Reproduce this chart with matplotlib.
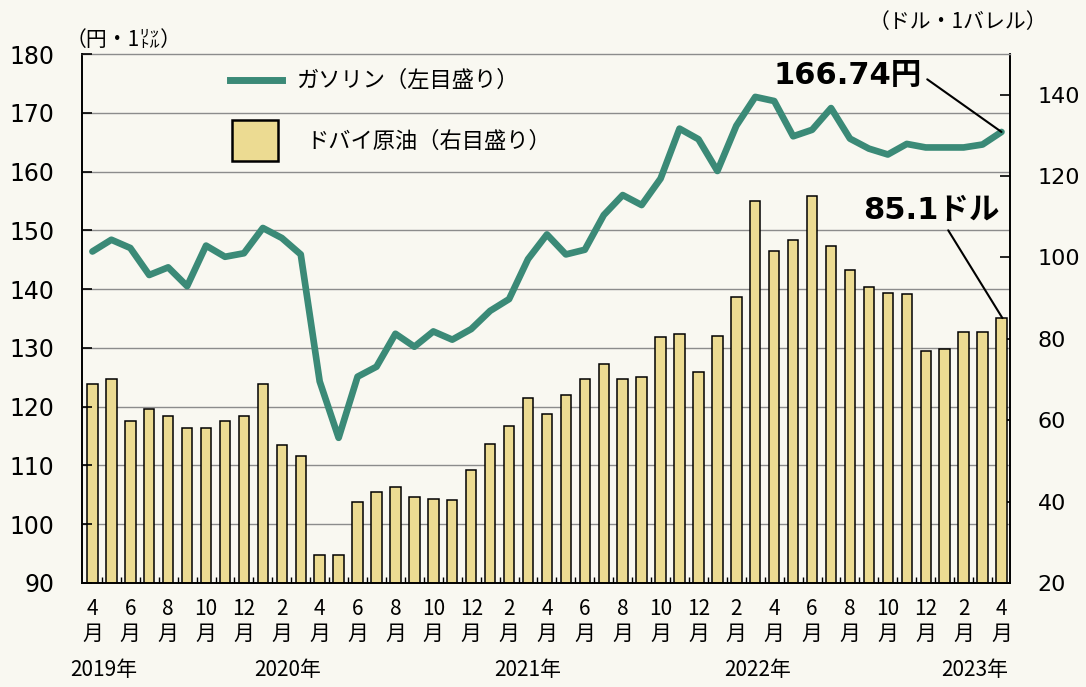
import numpy as np
import matplotlib.pyplot as plt
from matplotlib.lines import Line2D
from matplotlib.patches import Rectangle
from matplotlib.transforms import blended_transform_factory

plt.rcParams['font.family'] = ['Noto Sans CJK JP', 'DejaVu Sans']

# monthly data, April 2019 - April 2023
gasoline = [146.4, 148.4, 147.0, 142.4, 143.7, 140.5, 147.4, 145.5, 146.1, 150.4,
            148.7, 145.9, 124.3, 114.7, 125.1, 126.8, 132.4, 130.2, 132.8, 131.4,
            133.2, 136.3, 138.3, 145.1, 149.3, 145.9, 146.7, 152.6, 156.0, 154.3,
            158.8, 167.3, 165.5, 160.1, 167.8, 172.7, 172.0, 166.0, 167.1, 170.8,
            165.6, 163.9, 162.9, 164.7, 164.1, 164.1, 164.1, 164.6, 166.74]
crude = [69.0, 70.1, 59.9, 62.8, 61.1, 58.0, 58.1, 59.9, 61.0, 68.9,
         54.0, 51.1, 26.8, 26.8, 39.9, 42.3, 43.5, 41.2, 40.7, 40.5,
         47.7, 54.1, 58.6, 65.5, 61.6, 66.1, 70.1, 73.8, 70.1, 70.7,
         80.4, 81.3, 71.9, 80.6, 90.3, 113.9, 101.5, 104.2, 115.0, 102.9,
         97.0, 92.8, 91.3, 91.1, 76.9, 77.5, 81.7, 81.7, 85.1]
month_labels = ['4', '6', '8', '10', '12', '2', '4', '6', '8', '10', '12', '2', '4',
                '6', '8', '10', '12', '2', '4', '6', '8', '10', '12', '2', '4']
year_labels = ['2019年', '2020年', '2021年', '2022年', '2023年']
year_pos = [0.6, 10.3, 23.0, 35.1, 46.6]

bg = '#f9f8f1'
green = '#3b8a77'
yellow = '#ecdb92'

W, H = 1086, 687
fig = plt.figure(figsize=(W / 100, H / 100), dpi=100, facecolor=bg)
ax = fig.add_axes([82 / W, 1 - 583 / H, (1010 - 82) / W, (583 - 54) / H])
ax.set_facecolor(bg)
ax2 = ax.twinx()
ax.yaxis.tick_right()

x = np.arange(len(crude))

# grid lines at the left-scale values, drawn under the bars
for v in range(100, 180, 10):
    ax.axhline(20 + (v - 90) * 130 / 90, color='#8c8c8c', lw=1.0, zorder=0.5)

ax.bar(x, crude, width=0.55, color=yellow, edgecolor='black', linewidth=1.1, zorder=2)
ax.set_ylim(20, 150)
ax.set_xlim(-0.55, 48.45)
ax.set_yticks(range(20, 141, 20))
ax.tick_params(axis='y', direction='in', length=7, width=1.2, right=True, left=False,
               labelright=True, labelleft=False, labelsize=16, pad=20)
for lab in ax.get_yticklabels():
    lab.set_family('DejaVu Sans')

ax2.plot(x, gasoline, color=green, lw=4.8, solid_joinstyle='round',
         solid_capstyle='round', zorder=3)
ax2.set_ylim(90, 180)
ax2.set_yticks(range(90, 181, 10))
ax2.yaxis.tick_left()
ax2.tick_params(axis='y', direction='in', length=7, width=1.2, labelsize=17, pad=20)
for lab in ax2.get_yticklabels():
    lab.set_family('DejaVu Sans')

for s in ax2.spines.values():
    s.set_visible(False)
for side in ['left', 'right', 'bottom']:
    ax.spines[side].set_linewidth(1.4)
    ax.spines[side].set_color('black')
ax.spines['top'].set_color('#8c8c8c')
ax.spines['top'].set_linewidth(1.0)

ax.set_xticks(range(0, 49, 2))
ax.set_xticklabels([m + '\n月' for m in month_labels], fontsize=15, linespacing=1.15)
ax.set_xticks(np.arange(0.5, 48, 1), minor=True)
ax.tick_params(axis='x', which='major', length=0, pad=11)
ax.tick_params(axis='x', which='minor', direction='in', length=4, width=1.0)

trans = blended_transform_factory(ax.transData, ax.transAxes)
for yl, xp in zip(year_labels, year_pos):
    ax.text(xp, -0.165, yl, transform=trans, ha='center', va='center', fontsize=15)

# unit labels
fig.text(66 / W, 1 - 40 / H, '（円・1㍑）', ha='left', va='center', fontsize=15)
fig.text(1047 / W, 1 - 22 / H, '（ドル・1バレル）', ha='right', va='center', fontsize=15)

# legend
fig.add_artist(Line2D([230 / W, 282 / W], [1 - 80 / H, 1 - 80 / H], color=green, lw=5))
fig.text(296 / W, 1 - 80 / H, 'ガソリン（左目盛り）', ha='left', va='center', fontsize=16)
fig.add_artist(Rectangle((232 / W, 1 - 161 / H), 46 / W, 41 / H, facecolor=yellow,
                         edgecolor='black', lw=1.8, transform=fig.transFigure))
fig.text(306 / W, 1 - 141 / H, 'ドバイ原油（右目盛り）', ha='left', va='center', fontsize=16)

# end-point callouts
ax2.annotate('166.74円', xy=(48, gasoline[-1]), xytext=(39.9, 176.3),
             ha='center', va='center', fontsize=22, fontweight='bold',
             family=['DejaVu Sans', 'Noto Sans CJK JP'],
             arrowprops=dict(arrowstyle='-', color='black', lw=1.5, relpos=(1, 0.5),
                             shrinkA=2, shrinkB=0))
ax.annotate('85.1ドル', xy=(48.05, crude[-1]), xytext=(44.3, 111.5),
            ha='center', va='center', fontsize=22, fontweight='bold',
            family=['DejaVu Sans', 'Noto Sans CJK JP'],
            arrowprops=dict(arrowstyle='-', color='black', lw=1.5, relpos=(0.6, 0),
                            shrinkA=2, shrinkB=0))

fig.savefig('out.png', dpi=100, facecolor=bg)
